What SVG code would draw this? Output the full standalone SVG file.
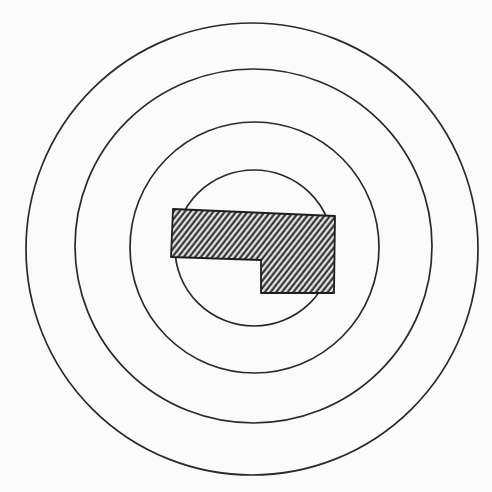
<svg xmlns="http://www.w3.org/2000/svg" width="492" height="492" viewBox="0 0 492 492">
  <style>
    .ring { fill: none; stroke: #2a2a2a; stroke-width: 1.7; }
    .block { fill: url(#hatch); stroke: #1e1e1e; stroke-width: 1.8; stroke-linejoin: round; }
  </style>
  <defs>
    <pattern id="hatch" width="4.5" height="10" patternUnits="userSpaceOnUse" patternTransform="rotate(38)">
      <rect width="4.5" height="10" fill="#e4e4e4"/>
      <line x1="1.5" y1="0" x2="1.5" y2="10" stroke="#2a2a2a" stroke-width="2.1"/>
    </pattern>
  </defs>
  <rect width="492" height="492" fill="#fbfbfb"/>
  <g id="rings">
    <ellipse id="ring-outer" class="ring" cx="252" cy="249" rx="226" ry="226"/>
    <ellipse id="ring-2" class="ring" cx="253.5" cy="246" rx="178.5" ry="177"/>
    <ellipse id="ring-3" class="ring" cx="254.5" cy="247.5" rx="124.5" ry="125.5"/>
    <ellipse id="ring-inner" class="ring" cx="254" cy="248" rx="79" ry="78"/>
  </g>
  <g id="hatched-block">
    <path class="block" d="M173 209 L335 216 L334 293 L261 293 L261 260 L171 257 Z"/>
  </g>
</svg>
